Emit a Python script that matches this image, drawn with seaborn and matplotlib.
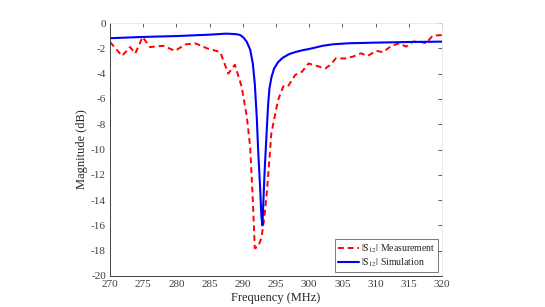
"""S12 magnitude: measurement vs simulation."""

import numpy as np
import pandas as pd
import seaborn as sns
import matplotlib.pyplot as plt

meas_freq = [270.0, 271.8, 273.0, 273.8, 274.9, 276.0, 278.0, 279.8, 281.3, 282.8,
             284.6, 286.6, 287.8, 288.8, 289.8, 290.6, 291.1, 291.5, 291.8, 292.3,
             292.8, 293.2, 293.6, 294.3, 295.3, 296.1, 296.8, 297.9, 298.9, 299.9,
             301.2, 302.4, 303.2, 304.0, 305.4, 306.6, 307.8, 308.8, 310.1, 311.1,
             312.4, 313.6, 314.6, 315.6, 316.6, 317.6, 318.6, 320.0]
meas_db = [-1.5, -2.6, -1.9, -2.4, -1.1, -1.9, -1.8, -2.2, -1.7, -1.6,
           -2.0, -2.3, -4.0, -3.3, -5.0, -7.4, -9.8, -14.0, -17.8, -17.7,
           -17.0, -15.5, -13.5, -8.7, -6.1, -5.0, -5.0, -4.1, -3.85, -3.2,
           -3.4, -3.6, -3.3, -2.8, -2.8, -2.65, -2.4, -2.6, -2.2, -2.3,
           -1.8, -1.6, -1.87, -1.47, -1.47, -1.6, -1.0, -0.95]

# Simulated |S12| (dB)
sim_freq = [270.0, 275.0, 280.0, 285.0, 287.5, 289.0, 289.6, 290.1, 290.6, 291.1,
            291.5, 291.8, 292.1, 292.3, 292.6, 292.8, 292.95, 293.1, 293.3, 293.6,
            293.8, 294.0, 294.3, 294.7, 295.3, 296.0, 297.0, 298.0, 299.0, 300.0,
            301.0, 302.0, 303.6, 306.0, 310.0, 315.0, 320.0]
sim_db = [-1.2, -1.1, -1.03, -0.92, -0.84, -0.88, -0.95, -1.15, -1.5, -2.1,
          -3.2, -4.8, -7.5, -10.0, -13.0, -15.3, -16.0, -14.0, -11.5, -8.5,
          -6.5, -5.2, -4.3, -3.6, -3.1, -2.75, -2.45, -2.28, -2.15, -2.05,
          -1.93, -1.8, -1.68, -1.6, -1.55, -1.5, -1.47]


def main() -> None:
    sns.set_style("white")
    plt.rcParams["font.family"] = ["Liberation Serif", "DejaVu Serif"]
    plt.rcParams["mathtext.fontset"] = "stix"
    plt.rcParams["axes.unicode_minus"] = False

    meas = pd.DataFrame({"freq": meas_freq, "db": meas_db})
    sim = pd.DataFrame({"freq": sim_freq, "db": sim_db})

    fig = plt.figure(figsize=(5.45, 3.07), dpi=100)
    ax = fig.add_axes([0.202, 0.101, 0.609, 0.824])

    sns.lineplot(data=meas, x="freq", y="db", ax=ax, color="#ff0000",
                 linestyle=(0, (3, 2)), linewidth=1.4,
                 label=r"$|\mathrm{S}_{12}|$ Measurement")
    sns.lineplot(data=sim, x="freq", y="db", ax=ax, color="#0000ff",
                 linewidth=1.5, label=r"$|\mathrm{S}_{12}|$ Simulation")

    ax.set_xlim(270, 320)
    ax.set_ylim(-20, 0)
    ax.set_xticks(np.arange(270, 321, 5))
    ax.set_yticks(np.arange(-20, 1, 2))
    ax.set_xlabel("Frequency (MHz)", fontsize=9, color="#262626", labelpad=2)
    ax.set_ylabel("Magnitude (dB)", fontsize=9, color="#262626", labelpad=2)

    ax.tick_params(direction="in", length=3, width=0.6, labelsize=8,
                   colors="#404040", top=True, right=True, pad=3)
    for side in ["left", "bottom"]:
        ax.spines[side].set_color("#404040")
        ax.spines[side].set_linewidth(0.7)
    for side in ["top", "right"]:
        ax.spines[side].set_color("#e6e6e6")
        ax.spines[side].set_linewidth(0.6)

    leg = ax.legend(loc="lower right", fontsize=7, handlelength=2.2,
                    frameon=True, fancybox=False, borderpad=0.3,
                    handletextpad=0.2, labelspacing=0.2,
                    borderaxespad=0.4)
    leg.get_frame().set_edgecolor("#404040")
    leg.get_frame().set_linewidth(0.6)

    fig.savefig("out.png", dpi=100)
    plt.close(fig)


if __name__ == "__main__":
    main()
